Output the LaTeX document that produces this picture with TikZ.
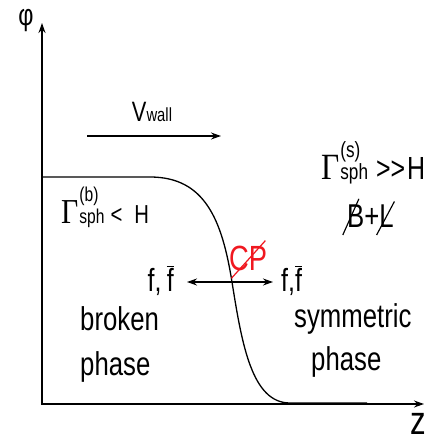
\documentclass[tikz,border=0pt]{standalone}
\usepackage{fontspec}
\setmainfont{Liberation Sans}[FakeStretch=0.78]
\newfontfamily\grkfont{Liberation Serif}[FakeStretch=0.85]
\usetikzlibrary{arrows.meta}
\definecolor{cpred}{HTML}{F01820}

% Gamma with sphaleron indices: #1 index, #2 Gamma size, #3 index size
\newcommand{\gsph}[3]{{\grkfont\fontsize{#2}{#2}\selectfont Γ}\kern1pt\makebox[0pt][l]{\raisebox{22pt}{\fontsize{#3}{#3}\selectfont(#1)}}{\fontsize{#3}{#3}\selectfont sph}}
% letter with a long thin slash: #1 angle, #2 length, #3 letter, #4 offset
\newcommand{\slashed}[4]{\makebox[0pt][l]{\hspace{#4}\raisebox{-0.25em}{\rotatebox{#1}{\rule{#2}{0.035em}}}}#3}
\newcommand{\fbar}{$\overline{\mbox{f}}$}

\begin{document}
\begin{tikzpicture}[x=1pt,y=-1pt]
  \tikzset{
    txt/.style={inner sep=0pt,font=\fontsize{33}{36}\selectfont},
    axis/.style={line width=1.4pt,{Stealth[length=10pt,width=7pt]}-{Stealth[length=10pt,width=7pt]}},
    arr/.style={line width=1.2pt,-{Stealth[length=10pt,width=7pt]}}
  }
  \useasboundingbox (0,0) rectangle (429,443);

  % axes
  \coordinate (ytop) at (42,23);
  \coordinate (orig) at (42,404);
  \coordinate (xend) at (424,404);
  \draw[axis] (ytop) -- (orig) -- (xend);
  \node[txt,font=\fontsize{30}{30}\selectfont] (phi) at (26,21) {φ};
  \node[txt,font=\fontsize{40}{40}\selectfont] (zlab) at (418,424) {z};

  % wall profile
  \draw[line width=1.3pt] (42,177) -- (150,177) .. controls (205,177) and (222,220) .. (232,282)
    .. controls (242,345) and (252,403) .. (290,403) -- (367,403);

  % wall velocity
  \node[txt,anchor=base] (vlab) at (152,122) {\fontsize{28}{28}\selectfont V\fontsize{19}{19}\selectfont wall};
  \coordinate (v1) at (87,136);
  \coordinate (v2) at (221,136);
  \draw[arr] (v1) -- (v2);

  % rates
  \node[txt,anchor=base west,font=\fontsize{26}{30}\selectfont] (gb) at (61,223) {\gsph{b}{35}{20}\hspace{6pt}<\hspace{12pt}H};
  \node[txt,anchor=base west,font=\fontsize{32}{34}\selectfont] (gs) at (321,180) {\gsph{s}{37}{22}\hspace{8pt}{>}\kern0pt{>}\hspace{2pt}H};
  \node[txt,anchor=base west] (bl) at (347,227) {\slashed{66}{1.2em}{B}{-0.15em}+\slashed{62}{1.15em}{L}{-0.1em}};

  % CP violation and particle flux
  \node[txt,anchor=base west,text=cpred,font=\fontsize{35}{35}\selectfont] (cp) at (229,270) {\slashed{48}{1.45em}{C}{0.05em}P};
  \node[txt,anchor=base east,font=\fontsize{32}{32}\selectfont] (fl) at (174,291) {f,\,\fbar};
  \node[txt,anchor=base west,font=\fontsize{32}{32}\selectfont] (fr) at (281,291) {f,\fbar};
  \coordinate (fa) at (187,282);
  \coordinate (fb) at (273,282);
  \draw[line width=1.2pt,{Stealth[length=10pt,width=7pt]}-{Stealth[length=10pt,width=7pt]}] (fa) -- (fb);

  % phases
  \node[txt,anchor=base west] (brk) at (80,330) {broken};
  \node[txt,anchor=base west] (phb) at (80,375) {phase};
  \node[txt,anchor=base west] (sym) at (294,327) {symmetric};
  \node[txt,anchor=base west] (phs) at (311,370) {phase};
\end{tikzpicture}
\end{document}
